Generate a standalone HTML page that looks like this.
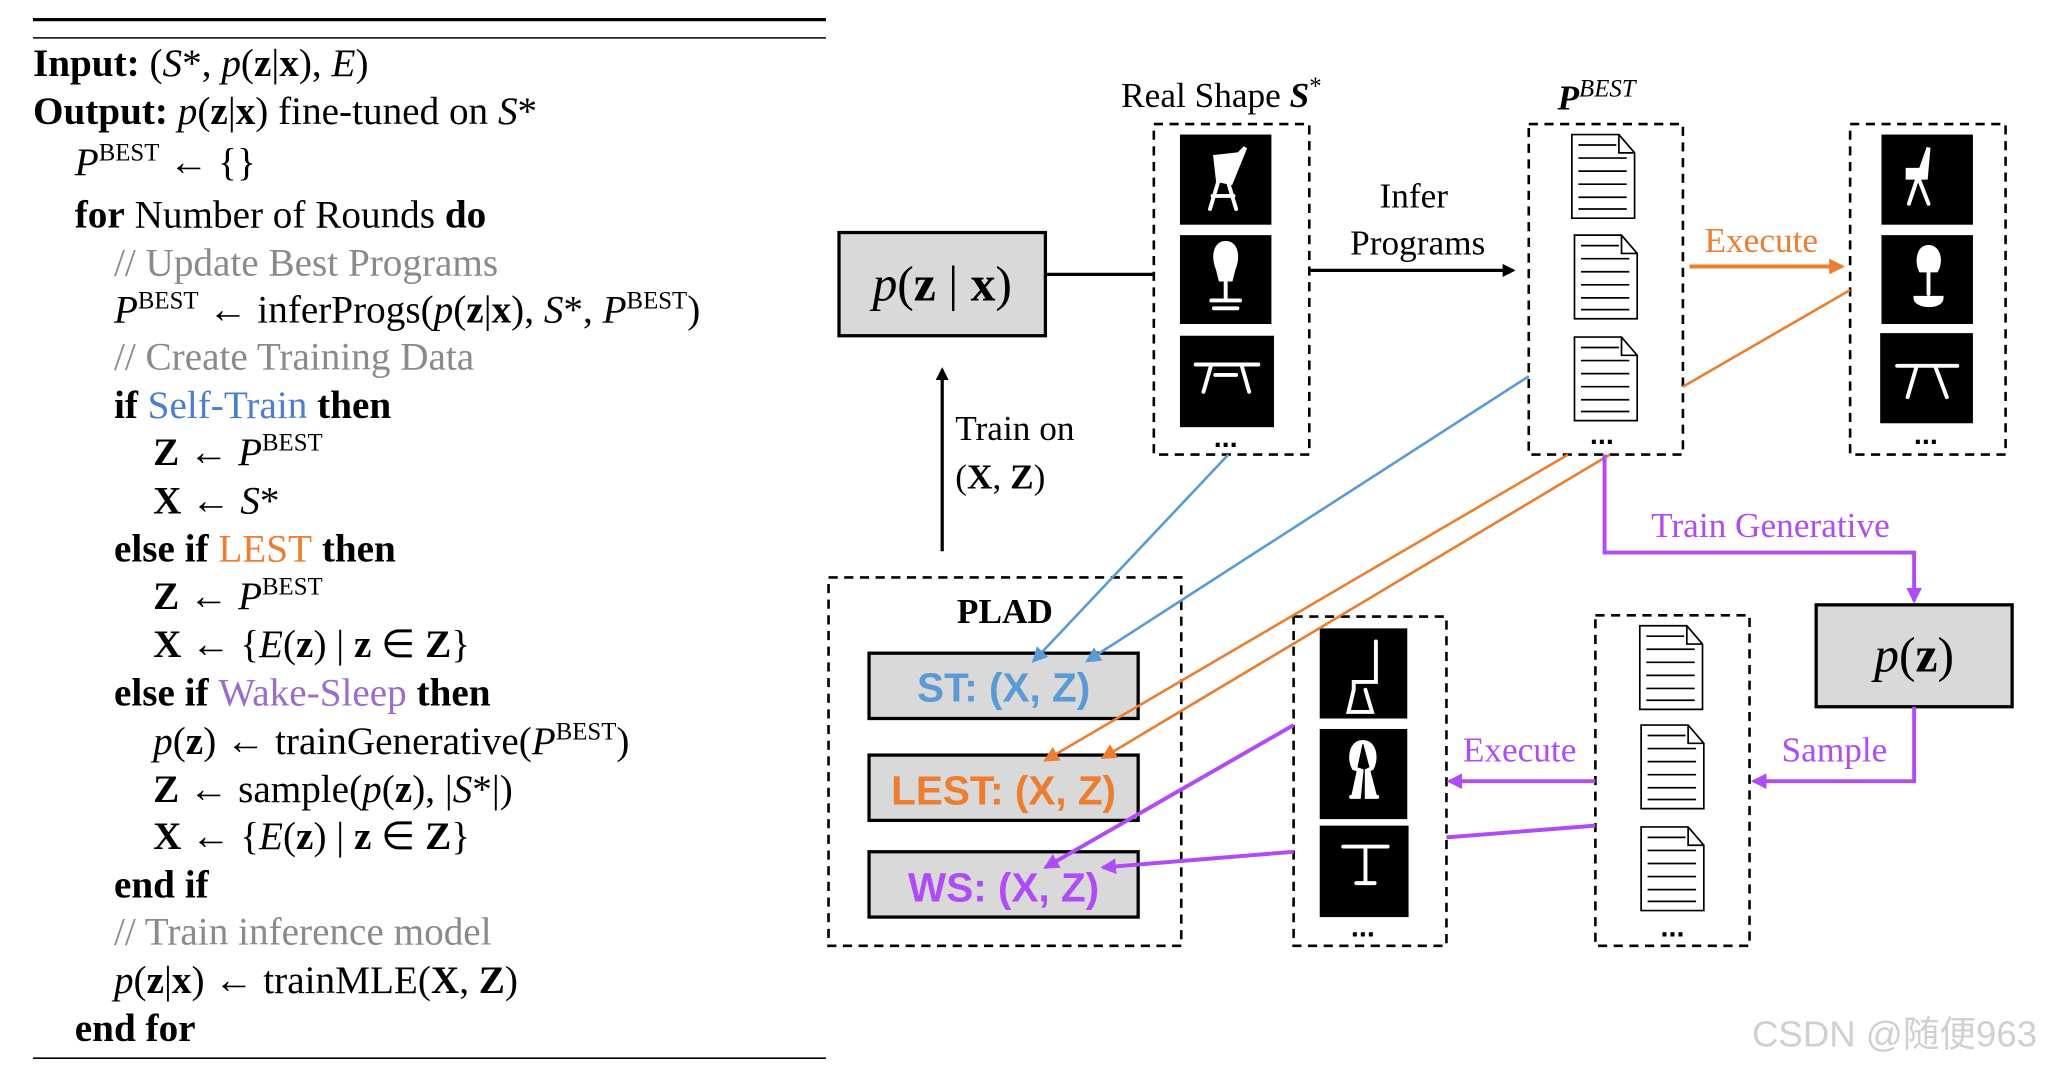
<!DOCTYPE html>
<html><head><meta charset="utf-8"><style>
html,body{margin:0;padding:0;background:#fff;}
svg{display:block}
.t{font-family:"Liberation Serif",serif;font-size:28px;fill:#000}
.a{font-size:30px}
.b{font-weight:bold}
.i{font-style:italic}
.g{fill:#8a8a8a}
.s{font-size:19px}
</style></head><body>
<svg width="2049" height="1066" viewBox="0 0 1568 816" xmlns="http://www.w3.org/2000/svg">
<defs>
<marker id="ak" markerWidth="10" markerHeight="10" refX="8" refY="5" orient="auto" markerUnits="userSpaceOnUse"><path d="M0,0 L10,5 L0,10 z" fill="#000"/></marker>
<marker id="ao" markerWidth="12" markerHeight="12" refX="10" refY="6" orient="auto" markerUnits="userSpaceOnUse"><path d="M0,0 L12,6 L0,12 z" fill="#ed7d31"/></marker>
<marker id="ab" markerWidth="12" markerHeight="12" refX="10" refY="6" orient="auto" markerUnits="userSpaceOnUse"><path d="M0,0 L12,6 L0,12 z" fill="#5b9bd5"/></marker>
<marker id="ap" markerWidth="12" markerHeight="12" refX="10" refY="6" orient="auto" markerUnits="userSpaceOnUse"><path d="M0,0 L12,6 L0,12 z" fill="#b04cf5"/></marker>
<g id="doc"><path d="M0,0 H36 L48,14 V64 H0 Z" fill="#fff" stroke="#000" stroke-width="1.3"/><path d="M36,0 V14 H48" fill="none" stroke="#000" stroke-width="1.3"/><path d="M5,8H34M5,18H42M5,28H42M5,38H42M5,48H42M5,57H42" stroke="#000" stroke-width="1.3"/></g>
</defs>
<line x1="25" y1="15" x2="632" y2="15" stroke="#000" stroke-width="2.5"/>
<line x1="25" y1="29" x2="632" y2="29" stroke="#000" stroke-width="1.2"/>
<line x1="25" y1="810" x2="632" y2="810" stroke="#000" stroke-width="1.2"/>
<g class="a">
<text class="t a" x="25" y="58"><tspan class="b">Input:</tspan> (<tspan class="i">S</tspan>*, <tspan class="i">p</tspan>(<tspan class="b">z</tspan>|<tspan class="b">x</tspan>), <tspan class="i">E</tspan>)</text>
<text class="t a" x="25" y="95"><tspan class="b">Output:</tspan> <tspan class="i">p</tspan>(<tspan class="b">z</tspan>|<tspan class="b">x</tspan>) fine-tuned on <tspan class="i">S</tspan>*</text>
<text class="t a" x="57" y="134"><tspan class="i">P</tspan><tspan class="s" dy="-11">BEST</tspan><tspan dy="11"> ← {}</tspan></text>
<text class="t a" x="57" y="174"><tspan class="b">for</tspan> Number of Rounds <tspan class="b">do</tspan></text>
<text class="t a g" x="87" y="211">// Update Best Programs</text>
<text class="t a" x="87" y="247"><tspan class="i">P</tspan><tspan class="s" dy="-11">BEST</tspan><tspan dy="11"> ← inferProgs(<tspan class="i">p</tspan>(<tspan class="b">z</tspan>|<tspan class="b">x</tspan>), <tspan class="i">S</tspan>*, <tspan class="i">P</tspan></tspan><tspan class="s" dy="-11">BEST</tspan><tspan dy="11">)</tspan></text>
<text class="t a g" x="87" y="283">// Create Training Data</text>
<text class="t a" x="87" y="320"><tspan class="b">if</tspan> <tspan fill="#4a7fd0">Self-Train</tspan> <tspan class="b">then</tspan></text>
<text class="t a" x="117" y="356"><tspan class="b">Z</tspan> ← <tspan class="i">P</tspan><tspan class="s" dy="-11">BEST</tspan></text>
<text class="t a" x="117" y="393"><tspan class="b">X</tspan> ← <tspan class="i">S</tspan>*</text>
<text class="t a" x="87" y="430"><tspan class="b">else if</tspan> <tspan fill="#ed7d31">LEST</tspan> <tspan class="b">then</tspan></text>
<text class="t a" x="117" y="466"><tspan class="b">Z</tspan> ← <tspan class="i">P</tspan><tspan class="s" dy="-11">BEST</tspan></text>
<text class="t a" x="117" y="503"><tspan class="b">X</tspan> ← {<tspan class="i">E</tspan>(<tspan class="b">z</tspan>) | <tspan class="b">z</tspan> ∈ <tspan class="b">Z</tspan>}</text>
<text class="t a" x="87" y="540"><tspan class="b">else if</tspan> <tspan fill="#9a6ccf">Wake-Sleep</tspan> <tspan class="b">then</tspan></text>
<text class="t a" x="117" y="577"><tspan class="i">p</tspan>(<tspan class="b">z</tspan>) ← trainGenerative(<tspan class="i">P</tspan><tspan class="s" dy="-11">BEST</tspan><tspan dy="11">)</tspan></text>
<text class="t a" x="117" y="614"><tspan class="b">Z</tspan> ← sample(<tspan class="i">p</tspan>(<tspan class="b">z</tspan>), |<tspan class="i">S</tspan>*|)</text>
<text class="t a" x="117" y="650"><tspan class="b">X</tspan> ← {<tspan class="i">E</tspan>(<tspan class="b">z</tspan>) | <tspan class="b">z</tspan> ∈ <tspan class="b">Z</tspan>}</text>
<text class="t a b" x="87" y="687">end if</text>
<text class="t a g" x="87" y="723">// Train inference model</text>
<text class="t a" x="87" y="760"><tspan class="i">p</tspan>(<tspan class="b">z</tspan>|<tspan class="b">x</tspan>) ← trainMLE(<tspan class="b">X</tspan>, <tspan class="b">Z</tspan>)</text>
<text class="t a b" x="57" y="797">end for</text>
</g>

<g fill="none" stroke="#000" stroke-width="2" stroke-dasharray="7,5">
<rect x="883" y="95" width="119" height="253"/>
<rect x="1170" y="95" width="118" height="253"/>
<rect x="1416" y="95" width="119" height="253"/>
<rect x="634" y="442" width="270" height="282"/>
<rect x="990" y="472" width="117" height="252"/>
<rect x="1221" y="471" width="118" height="253"/>
</g>
<rect x="642" y="178" width="158" height="79" fill="#d9d9d9" stroke="#000" stroke-width="2.5"/>
<text class="t" x="721" y="230" text-anchor="middle" style="font-size:38px"><tspan class="i">p</tspan>(<tspan class="b">z</tspan> | <tspan class="b">x</tspan>)</text>
<line x1="800" y1="210" x2="883" y2="210" stroke="#000" stroke-width="2.5"/>
<text class="t" x="858" y="82" style="font-size:27px">Real Shape <tspan class="b i">S</tspan><tspan class="s" dy="-10">*</tspan></text>
<text class="t b i" x="1192" y="84" style="font-size:27px">P<tspan class="s" style="font-weight:normal" dy="-10">BEST</tspan></text>
<text class="t" x="1082" y="159" text-anchor="middle" style="font-size:27px">Infer</text>
<text class="t" x="1085" y="195" text-anchor="middle" style="font-size:27px">Programs</text>
<line x1="1002" y1="207" x2="1158" y2="207" stroke="#000" stroke-width="2.5" marker-end="url(#ak)"/>
<text class="t" x="1348" y="193" text-anchor="middle" style="font-size:27px;fill:#ed7d31">Execute</text>
<line x1="1293" y1="204" x2="1410" y2="204" stroke="#ed7d31" stroke-width="3" marker-end="url(#ao)"/>
<line x1="1288" y1="296" x2="1416" y2="222" stroke="#ed7d31" stroke-width="2"/>

<g fill="#000">
<rect x="903" y="103" width="70" height="69"/><rect x="903" y="180" width="70" height="68"/><rect x="903" y="257" width="72" height="70"/>
<rect x="1440" y="103" width="70" height="69"/><rect x="1440" y="180" width="70" height="68"/><rect x="1439" y="255" width="71" height="69"/>
<rect x="1010" y="481" width="67" height="69"/><rect x="1010" y="558" width="67" height="69"/><rect x="1010" y="632" width="68" height="70"/>
</g>
<g fill="#fff" stroke="#fff" stroke-width="3" stroke-linecap="round">
<path d="M930,120 L948,118 L953,113 L942,140 L932,138Z M932,140 L926,160 M940,140 L946,160 M928,150 H944" fill="#fff"/>
<path d="M938,186 C930,186 928,196 932,206 L934,214 H942 L944,206 C948,196 946,186 938,186Z M938,214 V230 M927,230 H949 M929,236 H947" />
<path d="M915,279 H963 M927,279 L921,300 M950,279 L956,300 M930,287 H946"/>
<path d="M1476,113 L1470,130 H1460 V136 H1474 Z M1467,138 L1461,156 M1469,138 L1476,156"/>
<path d="M1476,189 C1468,189 1467,200 1470,207 H1482 C1486,200 1484,189 1476,189Z M1476,207 V225 M1466,228 C1466,235 1486,236 1486,228 Z"/>
<path d="M1452,280 H1498 M1467,280 L1460,304 M1481,280 L1490,304"/>
<path d="M1053,491 V522 H1036 V528 M1036,528 L1032,545 H1050 L1045,528" fill="none"/>
<path d="M1043,568 C1034,568 1032,580 1036,588 L1042,590 L1040,610 H1034 M1043,568 C1052,568 1054,580 1050,588 L1046,590 L1046,610 H1054"/>
<path d="M1028,648 H1062 M1045,648 V676 M1038,676 H1052"/>
</g>
<g fill="#000" font-family="Liberation Sans,sans-serif" font-size="22" font-weight="bold" text-anchor="middle">
<text x="938" y="342">...</text><text x="1226" y="340">...</text><text x="1474" y="340">...</text>
<text x="1043" y="717">...</text><text x="1280" y="717">...</text>
</g>
<use href="#doc" x="1203" y="103"/><use href="#doc" x="1205" y="180"/><use href="#doc" x="1205" y="258"/>
<use href="#doc" x="1255" y="479"/><use href="#doc" x="1256" y="555"/><use href="#doc" x="1256" y="633"/>

<line x1="721" y1="422" x2="721" y2="283" stroke="#000" stroke-width="2.5" marker-end="url(#ak)"/>
<text class="t" x="731" y="337" style="font-size:27px">Train on</text>
<text class="t" x="731" y="374" style="font-size:27px">(<tspan class="b">X</tspan>, <tspan class="b">Z</tspan>)</text>

<text class="t b" x="769" y="477" text-anchor="middle" style="font-size:27px">PLAD</text>
<g stroke="#000" stroke-width="2.5" fill="#d9d9d9">
<rect x="665" y="500" width="206" height="50"/><rect x="665" y="578" width="206" height="50"/><rect x="665" y="652" width="206" height="50"/>
</g>
<g font-family="Liberation Sans,sans-serif" font-size="31" font-weight="bold" text-anchor="middle">
<text x="768" y="537" fill="#5b9bd5">ST: (X, Z)</text>
<text x="768" y="616" fill="#ed7d31">LEST: (X, Z)</text>
<text x="768" y="690" fill="#b04cf5">WS: (X, Z)</text>
</g>
<line x1="940" y1="348" x2="791" y2="506" stroke="#5b9bd5" stroke-width="2" marker-end="url(#ab)"/>
<line x1="1170" y1="288" x2="832" y2="506" stroke="#5b9bd5" stroke-width="2" marker-end="url(#ab)"/>
<line x1="1200" y1="348" x2="800" y2="582" stroke="#ed7d31" stroke-width="2" marker-end="url(#ao)"/>
<line x1="1232" y1="348" x2="844" y2="580" stroke="#ed7d31" stroke-width="2" marker-end="url(#ao)"/>
<polyline points="1228,348 1228,423 1465,423 1465,460" fill="none" stroke="#b04cf5" stroke-width="3" marker-end="url(#ap)"/>
<text class="t" x="1355" y="411" text-anchor="middle" style="font-size:27px;fill:#b04cf5">Train Generative</text>
<rect x="1390" y="463" width="150" height="78" fill="#d9d9d9" stroke="#000" stroke-width="2.5"/>
<text class="t" x="1465" y="514" text-anchor="middle" style="font-size:38px"><tspan class="i">p</tspan>(<tspan class="b">z</tspan>)</text>
<polyline points="1465,541 1465,598 1342,598" fill="none" stroke="#b04cf5" stroke-width="3" marker-end="url(#ap)"/>
<text class="t" x="1404" y="583" text-anchor="middle" style="font-size:27px;fill:#b04cf5">Sample</text>
<line x1="1221" y1="598" x2="1109" y2="598" stroke="#b04cf5" stroke-width="3" marker-end="url(#ap)"/>
<text class="t" x="1163" y="583" text-anchor="middle" style="font-size:27px;fill:#b04cf5">Execute</text>
<line x1="1221" y1="632" x2="1107" y2="641" stroke="#b04cf5" stroke-width="3"/>
<line x1="990" y1="555" x2="800" y2="664" stroke="#b04cf5" stroke-width="3" marker-end="url(#ap)"/>
<line x1="990" y1="652" x2="844" y2="664" stroke="#b04cf5" stroke-width="3" marker-end="url(#ap)"/>
<text x="1450" y="801" font-family="Liberation Sans,'Noto Sans CJK SC',sans-serif" font-size="28" fill="#d0d0d0" text-anchor="middle">CSDN @随便963</text>
</svg>
</body></html>
